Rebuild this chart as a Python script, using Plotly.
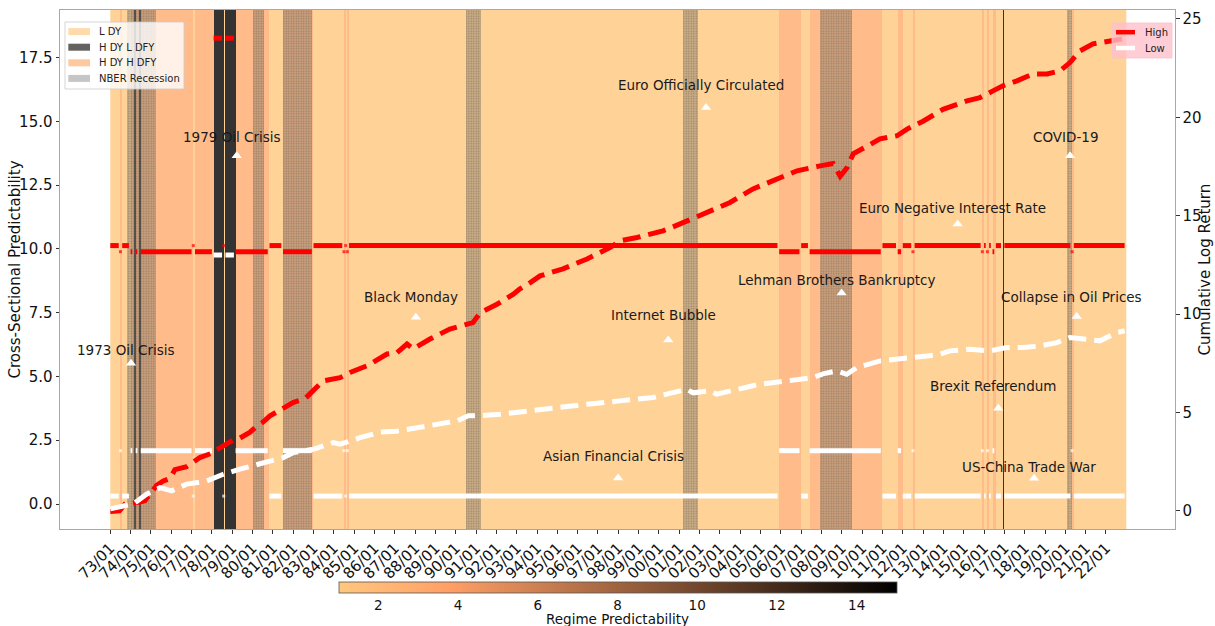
import numpy as np
import plotly.graph_objects as go

# ---------------- data ----------------
# Regime runs (month each run begins, regime code). L = L DY, D = H DY L DFY, S = H DY H DFY
REGIME_STARTS = ['1973-01', '1973-07', '1973-08', '1974-01', '1974-03', '1974-04', '1974-06',
                 '1974-07', '1977-02', '1977-03', '1978-02', '1978-08', '1978-09', '1979-03',
                 '1980-11', '1981-07', '1983-01', '1984-07', '1984-08', '1984-09', '1984-10',
                 '2005-12', '2007-01', '2007-06', '2011-01', '2011-10', '2012-01', '2012-07',
                 '2012-08', '2015-12', '2016-01', '2016-03', '2016-04', '2016-06', '2016-08',
                 '2016-12', '2017-01', '2020-05', '2020-06']
REGIME_CODES = ['L', 'S', 'L', 'S', 'D', 'S', 'D',
                'S', 'L', 'S', 'D', 'L', 'D', 'S',
                'L', 'S', 'L', 'S', 'L', 'S', 'L',
                'S', 'L', 'S', 'L', 'S', 'L', 'S',
                'L', 'S', 'L', 'S', 'L', 'S', 'L',
                'D', 'L', 'S', 'L']
LAST_MONTH = '2022-12'

# Regime predictability (colour scale value) per regime
REGIME_PRED = {'L': 1.0, 'S': 3.0, 'D': 15.0}
# Cross-sectional predictability of the High / Low portfolios in each regime
HIGH_CSP = {'L': 10.13, 'S': 9.89, 'D': 18.26}
LOW_CSP = {'L': 0.31, 'S': 2.09, 'D': 9.76}

# NBER recessions (first and last month)
NBER_START = ['1973-11', '1980-01', '1981-07', '1990-07', '2001-03', '2007-12', '2020-02']
NBER_END = ['1975-03', '1980-07', '1982-11', '1991-03', '2001-11', '2009-06', '2020-04']

# Cumulative log return, High portfolio
HIGH_T = [1973.00, 1973.45, 1973.72, 1974.10, 1974.46, 1974.71, 1975.12, 1975.28, 1975.61, 1975.94,
          1976.18, 1976.76, 1977.41, 1978.07, 1978.24, 1978.73, 1979.05, 1979.38, 1979.88, 1980.20,
          1980.50, 1980.86, 1981.30, 1981.99, 1982.58, 1982.85, 1983.16, 1983.47, 1984.31, 1984.80,
          1985.63, 1986.62, 1987.11, 1987.60, 1987.90, 1988.73, 1989.71, 1990.36, 1990.85, 1991.20,
          1992.03, 1992.82, 1993.16, 1993.67, 1994.15, 1995.28, 1996.46, 1997.59, 1998.09, 1998.92,
          2000.20, 2001.04, 2001.63, 2002.17, 2002.66, 2003.50, 2004.63, 2005.81, 2006.80, 2007.93,
          2008.57, 2008.92, 2009.26, 2009.56, 2010.24, 2010.88, 2011.72, 2012.21, 2013.00, 2013.98,
          2015.16, 2015.80, 2016.44, 2016.93, 2017.62, 2018.41, 2019.10, 2019.74, 2020.23, 2020.72,
          2021.36, 2022.34, 2022.92]
HIGH_CUM = [-0.03, 0.00, 0.34, 0.38, 0.45, 0.52, 1.15, 1.30, 1.52, 1.65,
            2.10, 2.25, 2.71, 2.96, 3.10, 3.39, 3.60, 3.70, 4.00, 4.30,
            4.50, 4.83, 5.10, 5.50, 5.70, 5.95, 6.25, 6.60, 6.77, 7.03,
            7.37, 7.97, 8.04, 8.48, 8.23, 8.73, 9.24, 9.40, 9.57, 10.07,
            10.50, 11.00, 11.28, 11.60, 11.94, 12.30, 12.80, 13.38, 13.72, 13.89,
            14.23, 14.58, 14.84, 15.09, 15.35, 15.67, 16.36, 16.87, 17.28, 17.53,
            17.65, 17.00, 17.44, 18.14, 18.55, 18.90, 19.06, 19.40, 19.80, 20.40,
            20.83, 21.00, 21.34, 21.60, 21.85, 22.20, 22.20, 22.36, 22.78, 23.37,
            23.73, 23.88, 24.00]

# Cumulative log return, Low portfolio
LOW_T = [1973.00, 1973.50, 1974.14, 1974.80, 1975.45, 1976.02, 1976.76, 1977.74, 1978.56, 1979.38,
         1980.20, 1981.51, 1982.00, 1982.99, 1983.97, 1984.31, 1985.29, 1986.27, 1987.09, 1988.08,
         1989.06, 1990.05, 1990.62, 1991.19, 1992.18, 1993.49, 1994.79, 1996.44, 1998.08, 1999.71,
         2000.69, 2001.37, 2001.68, 2002.51, 2002.84, 2003.83, 2004.97, 2006.29, 2007.58, 2008.07,
         2008.75, 2009.24, 2009.73, 2010.88, 2011.86, 2013.18, 2013.83, 2014.32, 2015.30, 2016.29,
         2017.11, 2017.93, 2018.75, 2019.58, 2020.23, 2020.88, 2021.70, 2022.53, 2022.92]
LOW_CUM = [0.10, 0.20, 0.36, 0.86, 1.18, 1.02, 1.36, 1.52, 1.86, 2.12,
           2.37, 2.71, 2.96, 3.13, 3.47, 3.39, 3.72, 4.00, 4.05, 4.23,
           4.42, 4.57, 4.83, 4.83, 4.91, 5.08, 5.22, 5.42, 5.59, 5.76,
           6.01, 6.18, 6.00, 6.10, 5.93, 6.18, 6.44, 6.60, 6.77, 6.96,
           7.11, 6.94, 7.28, 7.62, 7.70, 7.87, 7.96, 8.13, 8.21, 8.13,
           8.30, 8.30, 8.38, 8.55, 8.81, 8.72, 8.64, 9.06, 9.15]

# Market events
EVENT_NAMES = ['1973 Oil Crisis', '1979 Oil Crisis', 'Black Monday', 'Asian Financial Crisis',
               'Internet Bubble', 'Euro Officially Circulated', 'Lehman Brothers Bankruptcy',
               'Euro Negative Interest Rate', 'Brexit Referendum', 'US-China Trade War',
               'COVID-19', 'Collapse in Oil Prices']
EVENT_T = [1974.02, 1979.22, 1988.04, 1997.99, 2000.46, 2002.32, 2008.99,
           2014.70, 2016.70, 2018.46, 2020.23, 2020.56]
EVENT_MARK_Y = [5.52, 13.65, 7.32, 1.02, 6.43, 15.54, 8.27, 10.98, 3.75, 1.01, 13.65, 7.35]
EVENT_TEXT_Y = [6.04, 14.37, 8.13, 1.88, 7.41, 16.44, 8.79, 11.60, 4.64, 1.46, 14.38, 8.13]

YEAR_TICKS = list(range(1973, 2023))

# ---------------- helpers ----------------
FONT = 'DejaVu Sans'
Y_RANGE = [-0.98, 19.365]
Y2_RANGE = [-0.92, 25.45]
X_RANGE = [1970.525, 2025.397]
TICK_SIZE = 15


def dec(ym):
    y, m = ym.split('-')
    return int(y) + (int(m) - 1) / 12.0


# monthly regime sequence
n_months = int(round((dec(LAST_MONTH) - dec(REGIME_STARTS[0])) * 12)) + 1
t_month = np.array([dec(REGIME_STARTS[0]) + k / 12.0 for k in range(n_months)])
starts_dec = [dec(s) for s in REGIME_STARTS]
regime = []
for t in t_month:
    idx = max(i for i, s in enumerate(starts_dec) if s <= t + 1e-9)
    regime.append(REGIME_CODES[idx])

x_edges = np.append(t_month, t_month[-1] + 1 / 12.0)

# copper colormap, reversed
copper_r = [[0.0, 'rgb(255,199,127)'], [0.2, 'rgb(255,159,101)'], [1.0, 'rgb(0,0,0)']]


def px(v):
    return (v - 60) / 1115.0


def py(v):
    return (529 - v) / 519.0


fig = go.Figure()

# regime background
fig.add_trace(go.Heatmap(
    x=x_edges, y=Y_RANGE, z=[[REGIME_PRED[r] for r in regime]],
    colorscale=copper_r, zmin=1, zmax=15, opacity=0.8, hoverinfo='skip',
    colorbar=dict(
        orientation='h', x=0.5, xanchor='center', y=py(582), yanchor='top',
        len=558, lenmode='pixels', thickness=11, thicknessmode='pixels',
        xpad=0, ypad=0, outlinewidth=0.8, outlinecolor='#555',
        tickvals=[2, 4, 6, 8, 10, 12, 14], ticks='',
        tickfont=dict(family=FONT, size=13.5, color='#111'),
    ),
))

# NBER recessions
nb_s = np.array([dec(s) for s in NBER_START])
nb_e = np.array([dec(s) for s in NBER_END]) + 1 / 12.0
fig.add_trace(go.Bar(
    x=(nb_s + nb_e) / 2, y=[Y_RANGE[1] - Y_RANGE[0]] * len(nb_s), base=Y_RANGE[0],
    width=nb_e - nb_s, hoverinfo='skip', showlegend=False,
    marker=dict(color='rgba(128,128,128,0.42)', line=dict(width=0),
                pattern=dict(shape='.', fillmode='replace', bgcolor='rgba(128,118,108,0.42)',
                             fgcolor='rgba(80,70,60,0.4)', size=2.5, solidity=0.3)),
))

# cross-sectional predictability per regime
for levels, color in ((HIGH_CSP, '#ff0000'), (LOW_CSP, '#ffffff')):
    for code in ('L', 'S', 'D'):
        mask = [r == code for r in regime]
        y = [levels[code] if m else None for m in mask]
        sizes = []
        for i, m in enumerate(mask):
            prev_m = mask[i - 1] if i > 0 else False
            next_m = mask[i + 1] if i < len(mask) - 1 else False
            lone = m and not prev_m and not next_m and code != 'D'
            sizes.append(3 if lone else 0)
        fig.add_trace(go.Scatter(
            x=t_month, y=y, mode='lines+markers', connectgaps=False,
            line=dict(color=color, width=5),
            marker=dict(color=color, size=sizes, symbol='square', line=dict(width=0)),
            hoverinfo='skip', showlegend=False,
        ))

# event markers
fig.add_trace(go.Scatter(
    x=EVENT_T, y=EVENT_MARK_Y, mode='markers', hoverinfo='skip', showlegend=False,
    marker=dict(symbol='triangle-up', size=9, color='white', line=dict(width=0)),
))

# cumulative log returns
fig.add_trace(go.Scatter(
    x=HIGH_T, y=HIGH_CUM, yaxis='y2', mode='lines', name='High', showlegend=False,
    line=dict(color='#ff0000', width=5, dash='18px,8px'),
))
fig.add_trace(go.Scatter(
    x=LOW_T, y=LOW_CUM, yaxis='y2', mode='lines', name='Low', showlegend=False,
    line=dict(color='#ffffff', width=5, dash='18px,8px'),
))

annotations = []
for name, t, ty in zip(EVENT_NAMES, EVENT_T, EVENT_TEXT_Y):
    annotations.append(dict(x=t, y=ty, xref='x', yref='y', text=name, showarrow=False,
                            xshift=-5, font=dict(family=FONT, size=13.5, color='#1a1a1a')))

# ---------------- titles and legends ----------------
annotations.append(dict(x=px(14), y=0.5, xref='paper', yref='paper', text='Cross-Sectional Predictability',
                        textangle=-90, showarrow=False, xanchor='center', yanchor='middle',
                        font=dict(family=FONT, size=TICK_SIZE, color='#111')))
annotations.append(dict(x=px(1204), y=0.5, xref='paper', yref='paper', text='Cumulative Log Return',
                        textangle=-90, showarrow=False, xanchor='center', yanchor='middle',
                        font=dict(family=FONT, size=TICK_SIZE, color='#111')))
annotations.append(dict(x=0.5, y=py(618.5), xref='paper', yref='paper', text='Regime Predictability',
                        showarrow=False, xanchor='center', yanchor='middle',
                        font=dict(family=FONT, size=13.5, color='#111')))

shapes = []
shapes.append(dict(type='rect', xref='paper', yref='paper', x0=px(65), x1=px(184), y0=py(22), y1=py(89),
                   fillcolor='rgba(255,255,255,0.8)', line=dict(color='rgba(204,204,204,0.8)', width=1),
                   layer='above'))
legend1 = [('L DY', '#ffdaaa'), ('H DY L DFY', '#626262'), ('H DY H DFY', '#ffc99f'),
           ('NBER Recession', '#c6c6c6')]
for k, (lab, col) in enumerate(legend1):
    cy = 31.6 + 15.6 * k
    shapes.append(dict(type='rect', xref='paper', yref='paper', x0=px(68.3), x1=px(90),
                       y0=py(cy + 3.5), y1=py(cy - 3.5), fillcolor=col, line=dict(width=0),
                       layer='above'))
    annotations.append(dict(x=px(97), y=py(cy), xref='paper', yref='paper', text=lab,
                            showarrow=False, xanchor='left', yanchor='middle',
                            font=dict(family=FONT, size=10, color='#222')))

shapes.append(dict(type='rect', xref='paper', yref='paper', x0=px(1112), x1=px(1172), y0=py(23), y1=py(58),
                   fillcolor='rgba(255,192,203,0.8)', line=dict(color='rgba(255,192,203,0.8)', width=1),
                   layer='above'))
for k, (lab, col) in enumerate([('High', '#ff0000'), ('Low', '#ffffff')]):
    cy = 32.2 + 15.8 * k
    shapes.append(dict(type='line', xref='paper', yref='paper', x0=px(1116), x1=px(1135),
                       y0=py(cy), y1=py(cy), line=dict(color=col, width=4.5), layer='above'))
    annotations.append(dict(x=px(1143), y=py(cy), xref='paper', yref='paper', text=lab,
                            showarrow=False, xanchor='left', yanchor='middle',
                            font=dict(family=FONT, size=10, color='#222')))

axis_line = '#a8a8a8'
fig.update_layout(
    width=1215, height=626,
    margin=dict(l=60, r=40, t=10, b=97, autoexpand=False),
    paper_bgcolor='white', plot_bgcolor='white',
    font=dict(family=FONT, color='#111'),
    showlegend=False, bargap=0,
    shapes=shapes, annotations=annotations,
    xaxis=dict(range=X_RANGE, tickvals=YEAR_TICKS, automargin=False,
               ticktext=['%02d/01' % (y % 100) for y in YEAR_TICKS],
               tickangle=-45, ticks='outside', ticklen=3.5, tickcolor='#333',
               tickfont=dict(family=FONT, size=TICK_SIZE, color='#111'),
               showline=True, linecolor=axis_line, linewidth=1, mirror=True,
               showgrid=False, zeroline=False),
    yaxis=dict(range=Y_RANGE, tickvals=[0, 2.5, 5, 7.5, 10, 12.5, 15, 17.5], tickformat='.1f',
               automargin=False, ticks='outside', ticklen=3.5, tickcolor='#333',
               tickfont=dict(family=FONT, size=TICK_SIZE, color='#111'),
               showline=True, linecolor=axis_line, linewidth=1, mirror=True,
               showgrid=False, zeroline=False),
    yaxis2=dict(range=Y2_RANGE, overlaying='y', side='right', tickvals=[0, 5, 10, 15, 20, 25],
                automargin=False, ticks='outside', ticklen=3.5, tickcolor='#333',
                tickfont=dict(family=FONT, size=TICK_SIZE, color='#111'),
                showline=True, linecolor=axis_line, linewidth=1,
                showgrid=False, zeroline=False),
)

fig.write_html("out.html")
